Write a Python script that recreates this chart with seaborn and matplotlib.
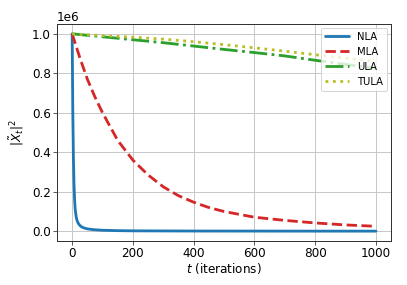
import numpy as np
import pandas as pd
import matplotlib
matplotlib.use('Agg')
import matplotlib.pyplot as plt
import seaborn as sns

# values (in units of 1e6)
t_nla = [0, 2, 4, 6, 8, 10, 13, 16, 20, 25, 30, 40, 50, 70, 100, 150, 200, 300, 400, 600, 800, 1000]
nla = [1.0, 0.62, 0.38, 0.24, 0.16, 0.11, 0.075, 0.055, 0.040, 0.030, 0.023, 0.016, 0.012, 0.008, 0.005, 0.003, 0.002, 0.0015, 0.001, 0.0008, 0.0005, 0.0005]

t_mla = [0, 25, 50, 75, 100, 150, 200, 250, 300, 350, 400, 450, 500, 600, 700, 800, 900, 1000]
mla = [1.0, 0.88, 0.77, 0.68, 0.60, 0.46, 0.36, 0.285, 0.225, 0.18, 0.147, 0.12, 0.10, 0.071, 0.055, 0.042, 0.032, 0.025]

t_ula = [0, 100, 200, 300, 400, 500, 600, 700, 800, 900, 1000]
ula = [1.0, 0.985, 0.970, 0.955, 0.938, 0.921, 0.905, 0.888, 0.866, 0.845, 0.825]

t_tula = [0, 100, 200, 300, 400, 500, 600, 700, 800, 900, 1000]
tula = [1.0, 0.991, 0.983, 0.973, 0.960, 0.945, 0.929, 0.912, 0.894, 0.877, 0.860]

series = {
    'NLA': (t_nla, nla),
    'MLA': (t_mla, mla),
    'ULA': (t_ula, ula),
    'TULA': (t_tula, tula),
}
rows = []
for name, (ts, vs) in series.items():
    for t, v in zip(ts, vs):
        rows.append({'t': t, 'val': v * 1e6, 'method': name})
df = pd.DataFrame(rows)

sns.set_style('ticks')
plt.rcParams['font.family'] = ['DejaVu Sans']
plt.rcParams['font.size'] = 12
plt.rcParams['text.color'] = 'black'
plt.rcParams['axes.labelcolor'] = 'black'
plt.rcParams['xtick.color'] = 'black'
plt.rcParams['ytick.color'] = 'black'

fig = plt.figure(figsize=(407 / 72, 285 / 72), dpi=72)
ax = fig.add_axes([0.14, 0.154, 0.821, 0.762])

colors = {'NLA': '#1f77b4', 'MLA': '#d62728', 'ULA': '#2ca02c', 'TULA': '#bcbd22'}
styles = {'NLA': '-', 'MLA': '--', 'ULA': '-.', 'TULA': ':'}
for name in series:
    d = df[df['method'] == name]
    sns.lineplot(x='t', y='val', data=d, ax=ax, color=colors[name],
                 linestyle=styles[name], linewidth=2.8, label=name)

ax.grid(True, color='#c8c8c8', linewidth=1)
ax.set_xlim(-50, 1050)
ax.set_ylim(-0.05e6, 1.05e6)
ax.set_xticks([0, 200, 400, 600, 800, 1000])
ax.set_yticks([0, 0.2e6, 0.4e6, 0.6e6, 0.8e6, 1.0e6])
ax.tick_params(labelsize=12, length=4, pad=2, color='#333333')
ax.yaxis.get_offset_text().set_fontsize(12)
ax.set_xlabel(r'$t$ (iterations)', fontsize=12, labelpad=1)
ax.set_ylabel(r'$|\tilde{X}_t|^2$', fontsize=12, labelpad=6)
for s in ax.spines.values():
    s.set_color('#333333')
    s.set_linewidth(1)
ax.legend(loc='upper right', fontsize=10, handlelength=2.4, borderaxespad=0.4)

plt.savefig('out.png', dpi=72)
